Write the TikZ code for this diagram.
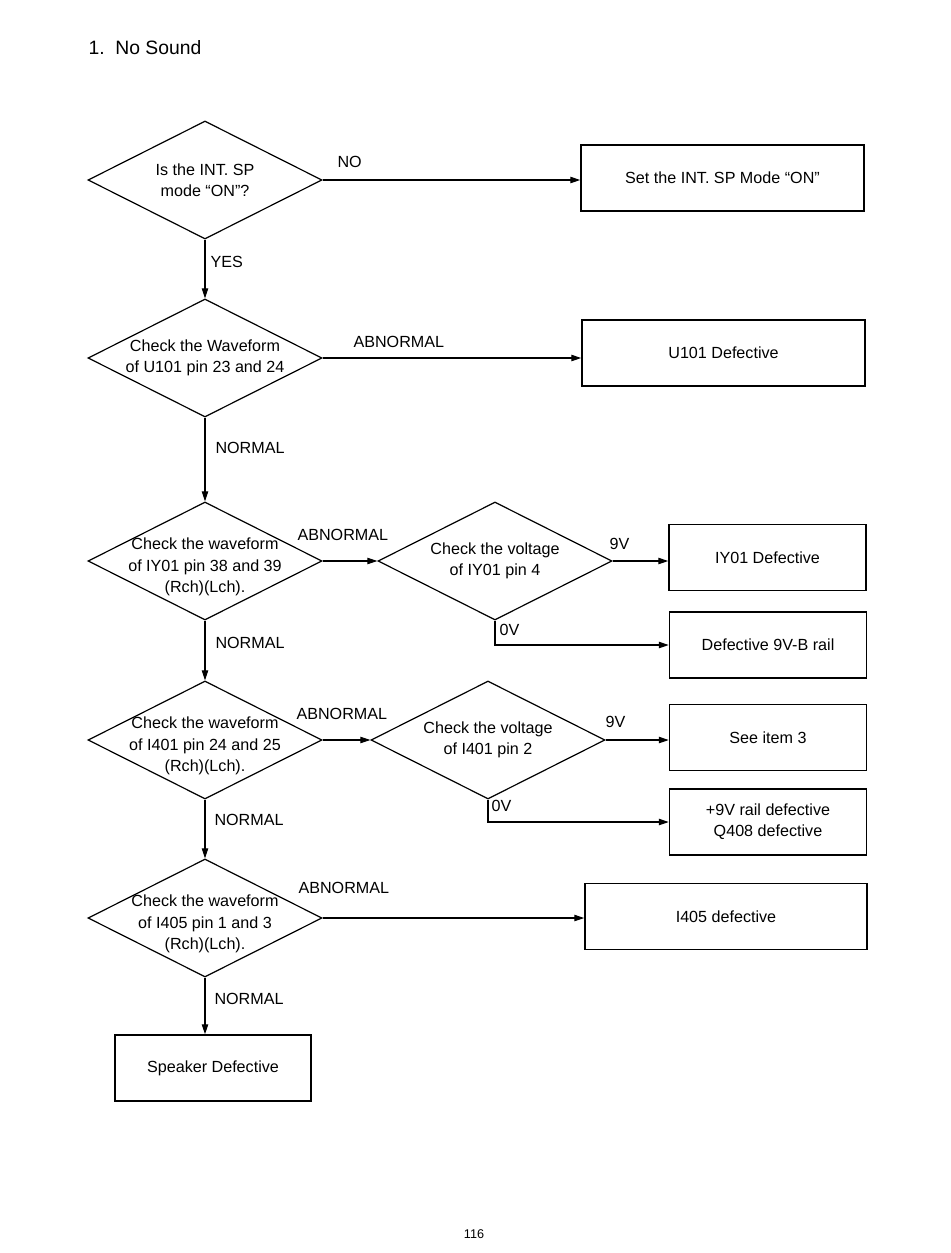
\documentclass[tikz,border=0pt]{standalone}
\usepackage{fontspec}
\setmainfont{Liberation Sans}
\usetikzlibrary{shapes.geometric,arrows.meta,positioning,calc}
\tikzset{
	flow chart/.style={
		x=0.75pt, y=-0.75pt,
		font=\fontsize{12.1}{16}\selectfont,
		line width=0.8pt,
		>={Triangle[length=7.5pt,width=4.8pt]}
		},
	decision shape/.style={diamond, draw, line width=0.9pt, inner sep=0pt,
		minimum width=175.5pt, minimum height=88.5pt},
	decision/.style={decision shape,
		label={[align=center]center:#1}},
	decision low/.style={decision shape,
		label={[align=center, yshift=-4.5pt]center:#1}},
	result/.style={rectangle, draw, line width=1.1pt, inner sep=0pt,
		minimum width=147.75pt, minimum height=49.5pt, align=center},
	wide result/.style={result, minimum width=212.25pt},
	lbl/.style={inner sep=0pt, anchor=west},
	ar/.style={->}
}

\begin{document}
\begin{tikzpicture}[flow chart]
   \useasboundingbox (0,0) rectangle (950,1253);
   \node[lbl, font=\fontsize{14.5}{17}\selectfont] (title) at (88,48) {1.\ \ No Sound};

   % main column
   \node[decision={Is the INT. SP\\mode “ON”?}] (d1) at (205,180) {};
   \node[decision={Check the Waveform\\of U101 pin 23 and 24}] (d2) at (205,358) {};
   \node[decision low={Check the waveform\\of IY01 pin 38 and 39\\(Rch)(Lch).}] (d3) at (205,561) {};
   \node[decision low={Check the waveform\\of I401 pin 24 and 25\\(Rch)(Lch).}] (d5) at (205,740) {};
   \node[decision low={Check the waveform\\of I405 pin 1 and 3\\(Rch)(Lch).}] (d7) at (205,918) {};
   \node[result, minimum width=147pt] (b8) at (213,1068) {Speaker Defective};

   % voltage checks
   \node[decision={Check the voltage\\of IY01 pin 4}] (d4) at (495,561) {};
   \node[decision={Check the voltage\\of I401 pin 2}] (d6) at (488,740) {};

   % results
   \node[wide result] (b1) at (722.5,178) {Set the INT. SP Mode “ON”};
   \node[wide result] (b2) at (723.5,353) {U101 Defective};
   \node[result] (b3) at (767.5,557.5) {IY01 Defective};
   \node[result] (b4) at (768,645) {Defective 9V-B rail};
   \node[result] (b5) at (768,737.5) {See item 3};
   \node[result] (b6) at (768,822) {+9V rail defective\\Q408 defective};
   \node[wide result, minimum width=211.5pt] (b7) at (726,916.5) {I405 defective};

   % connectors
   \draw[ar] (d1.east) -- (d1.east -| b1.west);
   \draw[ar] (d1.south) -- (d2.north);
   \draw[ar] (d2.east) -- (d2.east -| b2.west);
   \draw[ar] (d2.south) -- (d3.north);
   \draw[ar] (d3.east) -- (d4.west);
   \draw[ar] (d4.east) -- (d4.east -| b3.west);
   \draw[ar] (d4.south) |- (b4.west);
   \draw[ar] (d3.south) -- (d5.north);
   \draw[ar] (d5.east) -- (d6.west);
   \draw[ar] (d6.east) -- (d6.east -| b5.west);
   \draw[ar] (d6.south) |- (b6.west);
   \draw[ar] (d5.south) -- (d7.north);
   \draw[ar] (d7.east) -- (d7.east -| b7.west);
   \draw[ar] (d7.south) -- (d7.south |- b8.north);

   % connector labels
   \node[lbl] (lNo) at (337,162) {NO};
   \node[lbl] (lYes) at (210,262) {YES};
   \node[lbl] (lAb2) at (353,342) {ABNORMAL};
   \node[lbl] (lNo2) at (215,448) {NORMAL};
   \node[lbl] (lAb3) at (297,535) {ABNORMAL};
   \node[lbl] (l9v4) at (609,544) {9V};
   \node[lbl] (l0v4) at (499,630) {0V};
   \node[lbl] (lNo3) at (215,643) {NORMAL};
   \node[lbl] (lAb5) at (296,714) {ABNORMAL};
   \node[lbl] (l9v6) at (605,722) {9V};
   \node[lbl] (l0v6) at (491,806) {0V};
   \node[lbl] (lNo5) at (214,820) {NORMAL};
   \node[lbl] (lAb7) at (298,888) {ABNORMAL};
   \node[lbl] (lNo7) at (214,999) {NORMAL};

   \node[font=\fontsize{9.5}{11}\selectfont] (page) at (474,1234) {116};
\end{tikzpicture}
\end{document}
